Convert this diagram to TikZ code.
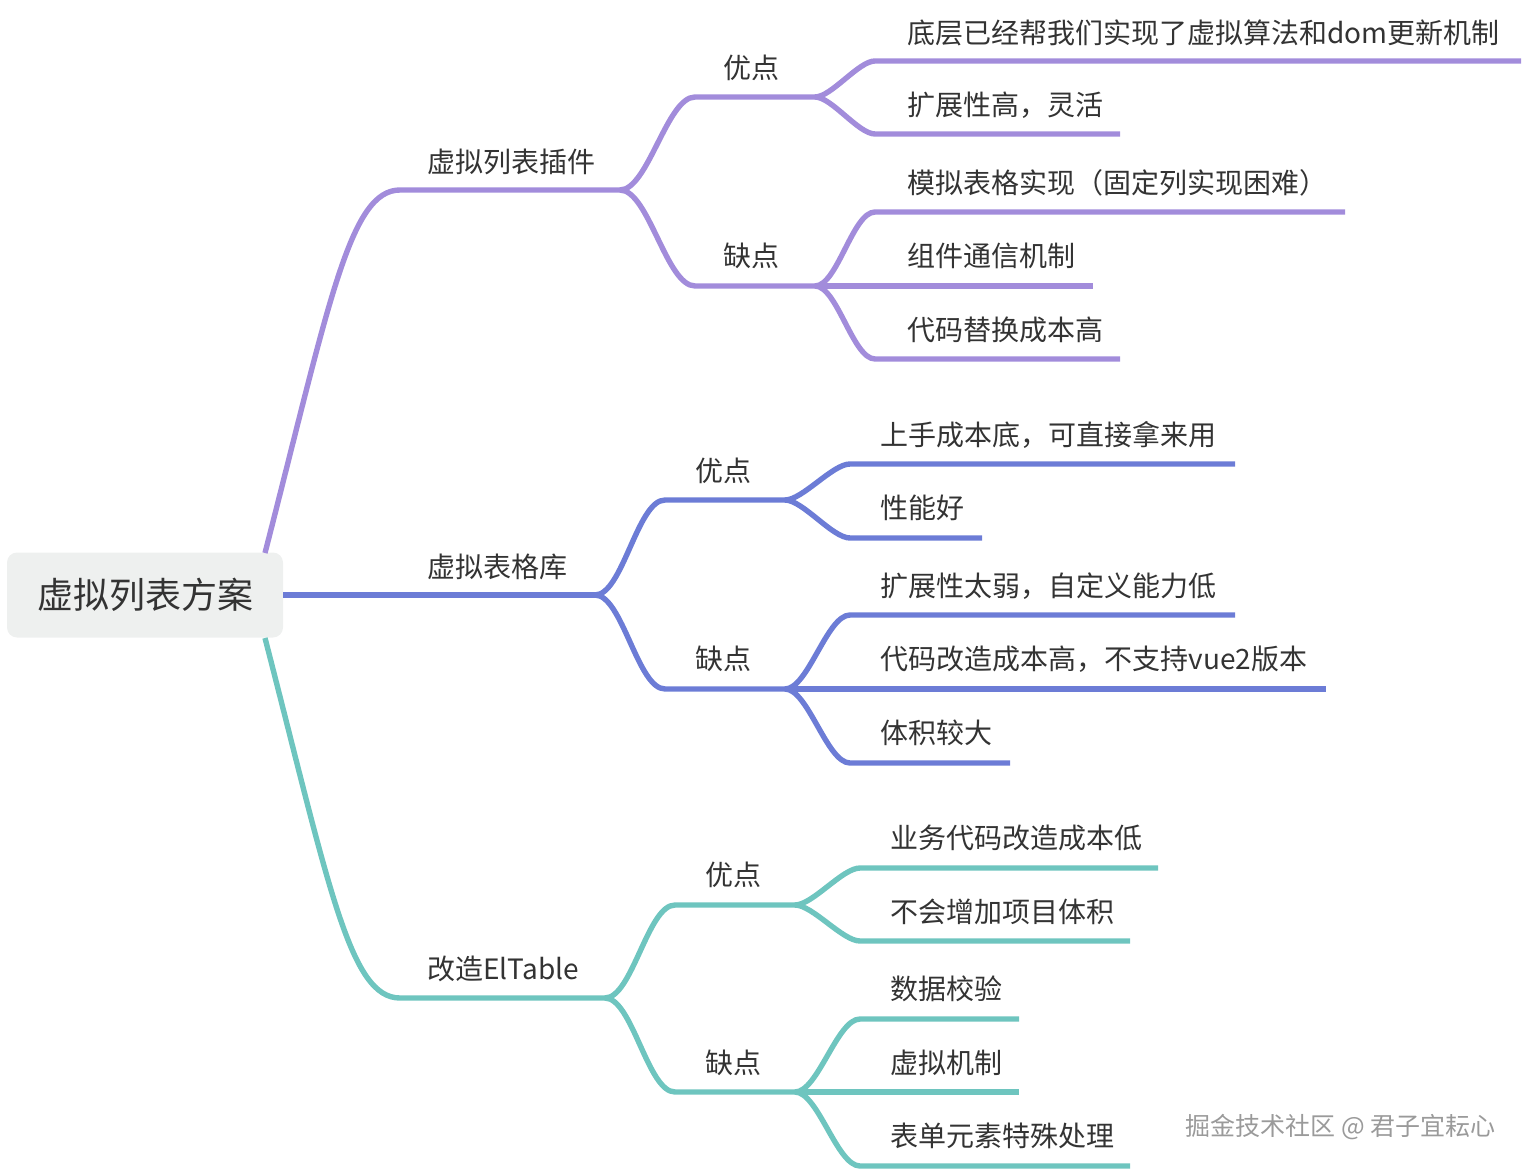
\documentclass[tikz,border=0pt]{standalone}
\usepackage{fontspec}
\setmainfont{Noto Sans CJK SC}
\definecolor{BranchPurple}{HTML}{A28CDB}
\definecolor{BranchBlue}{HTML}{6C7CD6}
\definecolor{BranchTeal}{HTML}{6EC5BF}
\definecolor{RootFill}{HTML}{EEF0EF}
\definecolor{InkGray}{HTML}{333333}
\definecolor{MarkGray}{HTML}{9A9A9A}
\tikzset{
  wire/.style={line width=2.7pt, looseness=0.6},
  lbl/.style={anchor=west, inner sep=0pt, text=InkGray, font=\fontsize{14}{16}\selectfont},
  rootbox/.style={fill=RootFill, rounded corners=5pt, minimum width=138pt, minimum height=42.5pt,
    inner sep=0pt, text=InkGray, font=\fontsize{18}{20}\selectfont},
}
\begin{document}
\begin{tikzpicture}[x=0.5pt,y=-0.5pt]
  \useasboundingbox (0,0) rectangle (1524,1170);
  \node[rootbox] (root) at (145,595) {虚拟列表方案};
  \coordinate (r1) at (265,553);
  \coordinate (r3) at (265,638);

  % branch 1
  \coordinate (n1s) at (400,190); \coordinate (n1j) at (620,190);
  \node[lbl] (n1) at (427,162) {虚拟列表插件};
  \draw[wire,BranchPurple] (r1) .. controls (330,300) and (350,190) .. (n1s) -- (n1j);
  \coordinate (n1ps) at (695,97); \coordinate (n1pj) at (815,97);
  \node[lbl] (n1p) at (723,68) {优点};
  \draw[wire,BranchPurple] (n1j) to[out=0,in=180] (n1ps) -- (n1pj);
  \coordinate (n1pas) at (875,61); \coordinate (n1pae) at (1521,61);
  \node[lbl] (n1pa) at (907,33) {底层已经帮我们实现了虚拟算法和dom更新机制};
  \draw[wire,BranchPurple] (n1pj) to[out=0,in=180] (n1pas) -- (n1pae);
  \coordinate (n1pbs) at (875,134); \coordinate (n1pbe) at (1120,134);
  \node[lbl] (n1pb) at (907,105) {扩展性高，灵活};
  \draw[wire,BranchPurple] (n1pj) to[out=0,in=180] (n1pbs) -- (n1pbe);
  \coordinate (n1cs) at (695,286); \coordinate (n1cj) at (815,286);
  \node[lbl] (n1c) at (723,256) {缺点};
  \draw[wire,BranchPurple] (n1j) to[out=0,in=180] (n1cs) -- (n1cj);
  \coordinate (n1cas) at (875,212); \coordinate (n1cae) at (1345,212);
  \node[lbl] (n1ca) at (907,183) {模拟表格实现（固定列实现困难）};
  \draw[wire,BranchPurple] (n1cj) to[out=0,in=180] (n1cas) -- (n1cae);
  \coordinate (n1cbe) at (1093,286);
  \node[lbl] (n1cb) at (907,256) {组件通信机制};
  \draw[wire,BranchPurple] (n1cj) -- (n1cbe);
  \coordinate (n1ccs) at (875,359); \coordinate (n1cce) at (1120,359);
  \node[lbl] (n1cc) at (907,330) {代码替换成本高};
  \draw[wire,BranchPurple] (n1cj) to[out=0,in=180] (n1ccs) -- (n1cce);

  % branch 2
  \coordinate (n2j) at (595,595);
  \node[lbl] (n2) at (427,567) {虚拟表格库};
  \draw[wire,BranchBlue] (root.east) -- (n2j);
  \coordinate (n2ps) at (665,500); \coordinate (n2pj) at (785,500);
  \node[lbl] (n2p) at (695,471) {优点};
  \draw[wire,BranchBlue] (n2j) to[out=0,in=180] (n2ps) -- (n2pj);
  \coordinate (n2pas) at (850,464); \coordinate (n2pae) at (1235,464);
  \node[lbl] (n2pa) at (880,435) {上手成本底，可直接拿来用};
  \draw[wire,BranchBlue] (n2pj) to[out=0,in=180] (n2pas) -- (n2pae);
  \coordinate (n2pbs) at (850,538); \coordinate (n2pbe) at (982,538);
  \node[lbl] (n2pb) at (880,508) {性能好};
  \draw[wire,BranchBlue] (n2pj) to[out=0,in=180] (n2pbs) -- (n2pbe);
  \coordinate (n2cs) at (665,689); \coordinate (n2cj) at (785,689);
  \node[lbl] (n2c) at (695,659) {缺点};
  \draw[wire,BranchBlue] (n2j) to[out=0,in=180] (n2cs) -- (n2cj);
  \coordinate (n2cas) at (850,615); \coordinate (n2cae) at (1235,615);
  \node[lbl] (n2ca) at (880,586) {扩展性太弱，自定义能力低};
  \draw[wire,BranchBlue] (n2cj) to[out=0,in=180] (n2cas) -- (n2cae);
  \coordinate (n2cbe) at (1326,689);
  \node[lbl] (n2cb) at (880,659) {代码改造成本高，不支持vue2版本};
  \draw[wire,BranchBlue] (n2cj) -- (n2cbe);
  \coordinate (n2ccs) at (850,763); \coordinate (n2cce) at (1010,763);
  \node[lbl] (n2cc) at (880,733) {体积较大};
  \draw[wire,BranchBlue] (n2cj) to[out=0,in=180] (n2ccs) -- (n2cce);

  % branch 3
  \coordinate (n3s) at (400,998); \coordinate (n3j) at (605,998);
  \node[lbl] (n3) at (427,969) {改造ElTable};
  \draw[wire,BranchTeal] (r3) .. controls (330,890) and (350,998) .. (n3s) -- (n3j);
  \coordinate (n3ps) at (675,905); \coordinate (n3pj) at (795,905);
  \node[lbl] (n3p) at (705,875) {优点};
  \draw[wire,BranchTeal] (n3j) to[out=0,in=180] (n3ps) -- (n3pj);
  \coordinate (n3pas) at (860,868); \coordinate (n3pae) at (1158,868);
  \node[lbl] (n3pa) at (890,838) {业务代码改造成本低};
  \draw[wire,BranchTeal] (n3pj) to[out=0,in=180] (n3pas) -- (n3pae);
  \coordinate (n3pbs) at (860,941); \coordinate (n3pbe) at (1130,941);
  \node[lbl] (n3pb) at (890,912) {不会增加项目体积};
  \draw[wire,BranchTeal] (n3pj) to[out=0,in=180] (n3pbs) -- (n3pbe);
  \coordinate (n3cs) at (675,1092); \coordinate (n3cj) at (795,1092);
  \node[lbl] (n3c) at (705,1063) {缺点};
  \draw[wire,BranchTeal] (n3j) to[out=0,in=180] (n3cs) -- (n3cj);
  \coordinate (n3cas) at (860,1019); \coordinate (n3cae) at (1019,1019);
  \node[lbl] (n3ca) at (890,989) {数据校验};
  \draw[wire,BranchTeal] (n3cj) to[out=0,in=180] (n3cas) -- (n3cae);
  \coordinate (n3cbe) at (1019,1092);
  \node[lbl] (n3cb) at (890,1063) {虚拟机制};
  \draw[wire,BranchTeal] (n3cj) -- (n3cbe);
  \coordinate (n3ccs) at (860,1166); \coordinate (n3cce) at (1130,1166);
  \node[lbl] (n3cc) at (890,1136) {表单元素特殊处理};
  \draw[wire,BranchTeal] (n3cj) to[out=0,in=180] (n3ccs) -- (n3cce);

  \node[anchor=west, inner sep=0pt, text=MarkGray, font=\fontsize{12.5}{14}\selectfont] (mark) at (1185,1127) {掘金技术社区 @ 君子宜耘心};
\end{tikzpicture}
\end{document}
